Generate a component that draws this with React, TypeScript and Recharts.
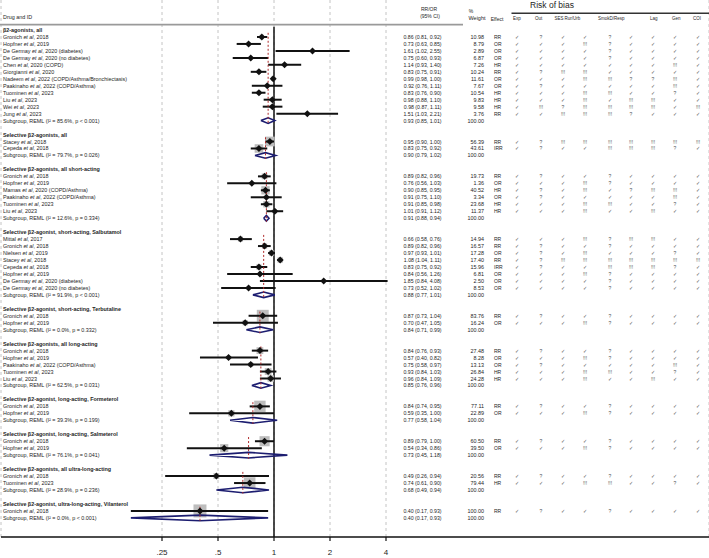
import React from "react";
import { ScatterChart, Scatter, XAxis, YAxis, CartesianGrid, ReferenceLine } from "recharts";

const FONT = "'Liberation Sans', Arial, Helvetica, sans-serif";

// ---- data ----
const groupTitles = [
  "β2-agonists, all",
  "Selective β2-agonists, all",
  "Selective β2-agonists, all short-acting",
  "Selective β2-agonist, short-acting, Salbutamol",
  "Selective β2-agonist, short-acting, Terbutaline",
  "Selective β2-agonists, all long-acting",
  "Selective β2-agonist, long-acting, Formeterol",
  "Selective β2-agonist, long-acting, Salmeterol",
  "Selective β2-agonists, all ultra-long-acting",
  "Selective β2-agonist, ultra-long-acting, Vilanterol",
];
const groupSizes = [12, 2, 6, 8, 2, 5, 2, 2, 2, 1];

const studyNames = [
  "Gronich et al, 2018", "Hopfner et al, 2019", "De Germay et al, 2020 (diabetes)",
  "De Germay et al, 2020 (no diabetes)", "Chen et al, 2020 (COPD)", "Giorgianni et al, 2020",
  "Nadeem et al, 2022 (COPD/Asthma/Bronchiectasis)", "Paakinaho et al, 2022 (COPD/Asthma)",
  "Tuominen et al, 2023", "Liu et al, 2023", "Wei et al, 2023", "Jung et al, 2023",
  "Stacey et al, 2018", "Cepeda et al, 2018",
  "Gronich et al, 2018", "Hopfner et al, 2019", "Mamas et al, 2020 (COPD/Asthma)",
  "Paakinaho et al, 2022 (COPD/Asthma)", "Tuominen et al, 2023", "Liu et al, 2023",
  "Mittal et al, 2017", "Gronich et al, 2018", "Nielsen et al, 2019", "Stacey et al, 2018",
  "Cepeda et al, 2018", "Hopfner et al, 2019", "De Germay et al, 2020 (diabetes)",
  "De Germay et al, 2020 (no diabetes)",
  "Gronich et al, 2018", "Hopfner et al, 2019",
  "Gronich et al, 2018", "Hopfner et al, 2019", "Paakinaho et al, 2022 (COPD/Asthma)",
  "Tuominen et al, 2023", "Liu et al, 2023",
  "Gronich et al, 2018", "Hopfner et al, 2019",
  "Gronich et al, 2018", "Hopfner et al, 2019",
  "Gronich et al, 2018", "Tuominen et al, 2023",
  "Gronich et al, 2018",
];
const studyEst = [
  0.86, 0.73, 1.61, 0.75, 1.14, 0.83, 0.99, 0.92, 0.83, 0.98, 0.98, 1.51,
  0.95, 0.83,
  0.89, 0.76, 0.90, 0.91, 0.91, 1.01,
  0.66, 0.89, 0.97, 1.08, 0.83, 0.84, 1.85, 0.73,
  0.87, 0.70,
  0.84, 0.57, 0.75, 0.93, 0.96,
  0.84, 0.59,
  0.89, 0.54,
  0.49, 0.74,
  0.40,
];
const studyLo = [
  0.81, 0.63, 1.02, 0.60, 0.93, 0.75, 0.98, 0.76, 0.76, 0.88, 0.87, 1.03,
  0.90, 0.75,
  0.82, 0.56, 0.85, 0.75, 0.85, 0.91,
  0.58, 0.82, 0.93, 1.04, 0.75, 0.56, 0.84, 0.52,
  0.73, 0.47,
  0.76, 0.40, 0.58, 0.84, 0.84,
  0.74, 0.35,
  0.79, 0.34,
  0.26, 0.61,
  0.17,
];
const studyHi = [
  0.92, 0.85, 2.55, 0.93, 1.40, 0.91, 1.00, 1.11, 0.90, 1.10, 1.11, 2.21,
  1.00, 0.92,
  0.96, 1.03, 0.95, 1.10, 0.98, 1.12,
  0.76, 0.96, 1.01, 1.11, 0.92, 1.26, 4.08, 1.02,
  1.04, 1.05,
  0.93, 0.82, 0.97, 1.03, 1.09,
  0.95, 1.00,
  1.00, 0.86,
  0.94, 0.90,
  0.93,
];
const studyWeight = [
  10.98, 8.79, 2.89, 6.87, 7.26, 10.24, 11.61, 7.67, 10.54, 9.83, 9.58, 3.76,
  56.39, 43.61,
  19.73, 1.36, 40.52, 3.34, 23.68, 11.37,
  14.94, 16.57, 17.28, 17.4, 15.96, 6.81, 2.5, 8.53,
  83.76, 16.24,
  27.48, 8.28, 13.13, 26.84, 24.28,
  77.11, 22.89,
  60.5, 39.5,
  20.56, 79.44,
  100,
];
const studyEffect = [
  "RR", "OR", "OR", "OR", "HR", "RR", "OR", "OR", "HR", "HR", "HR", "RR",
  "RR", "IRR",
  "RR", "OR", "HR", "OR", "HR", "HR",
  "RR", "RR", "OR", "RR", "IRR", "OR", "OR", "OR",
  "RR", "OR",
  "RR", "OR", "OR", "HR", "HR",
  "RR", "OR",
  "RR", "OR",
  "RR", "HR",
  "RR",
];
// c = low risk, q = unclear, x = high risk
const studyBias = [
  "cqccqcccc", "cccxqcccc", "ccccqcccc", "ccccqcccc", "cccccccxc", "cqxxccccc",
  "cccxxqqxc", "cqcccccxc", "cccxxccqc", "cccxcxxcc", "cxqxxxxcx", "ccxxxqccc",
  "cqxxxxxxx", "cqccxxxqc",
  "cqccqcccc", "cccxqcccc", "cqcxcqxxc", "cqcccccxc", "cccxxccqc", "cccxccxcc",
  "cccxqxxcc", "cqccqcccc", "cqcxcccqc", "cqxxxxxxx", "cqccxxxqc", "cccxqcccc",
  "ccccqcccc", "ccccqcccc",
  "cqccqcccc", "cccxqcccc",
  "cqccqcccc", "cccxqcccc", "cqcccccxc", "cccxxccqc", "cccxccxcc",
  "cqccqcccc", "cccxqcccc",
  "cqccqcccc", "cccxqcccc",
  "cqccqcccc", "cccxxccqc",
  "cqccqcccc",
];

const subgroupStats = [
  "I² = 85.6%, p < 0.001", "I² = 79.7%, p = 0.026", "I² = 12.6%, p = 0.334",
  "I² = 91.9%, p < 0.001", "I² = 0.0%, p = 0.332", "I² = 62.5%, p = 0.031",
  "I² = 39.3%, p = 0.199", "I² = 76.1%, p = 0.041", "I² = 28.9%, p = 0.236",
  "I² = 0.0%, p < 0.001",
];
const subgroupEst = [0.93, 0.90, 0.91, 0.88, 0.84, 0.85, 0.77, 0.73, 0.68, 0.40];
const subgroupLo = [0.85, 0.79, 0.88, 0.77, 0.71, 0.76, 0.58, 0.45, 0.49, 0.17];
const subgroupHi = [1.01, 1.02, 0.94, 1.01, 0.99, 0.96, 1.04, 1.18, 0.94, 0.93];

const biasColumns = ["Exp", "Out", "SES", "Rur/Urb", "Smok", "D/Resp", "Lag", "Gen", "COI"];
const xTicks = [0.25, 0.5, 1, 2, 4];
const xTickLabels = [".25", ".5", "1", "2", "4"];

// ---- layout ----
const W = 709;
const H = 558;
const ROW_Y0 = 30;
const ROW_H = 6.97;
const AXIS_Y = 537;
const PLOT_LEFT = 1; // y axis needs a non-zero width to draw its ticks
const ONE_X = 274;
const PX_PER_DOUBLING = 56;
const X_MIN = Math.pow(2, -(ONE_X - PLOT_LEFT) / PX_PER_DOUBLING);
const X_MAX = Math.pow(2, (W - ONE_X) / PX_PER_DOUBLING);
const Y_TOP = -ROW_Y0 / ROW_H;
const Y_BOTTOM = (AXIS_Y - ROW_Y0) / ROW_H;
const HEADER_ROW = -1.6;

const LABEL_FS = 5.4;
const CI_FS = 5.2;
const biasX = [517, 541, 563, 585, 610, 631, 653, 675, 698];
const biasHeadX = [513, 535, 554.5, 564.5, 598, 609.5, 650, 672, 693];
const biasGlyph: Record<string, string> = { c: "✓", q: "?", x: "!!!" };

type Row = { r: number; kind: "title" | "study" | "sub"; g: number; i: number };
const rows: Row[] = [];
const studies: { x: number; y: number; w: number; lo: number; hi: number }[] = [];
const subgroups: { r: number; g: number; first: number }[] = [];
{
  let r = 0;
  let k = 0;
  groupSizes.forEach((n, g) => {
    rows.push({ r, kind: "title", g, i: -1 });
    for (let j = 0; j < n; j++) {
      rows.push({ r: r + 1 + j, kind: "study", g, i: k });
      studies.push({ x: studyEst[k], y: r + 1 + j, w: studyWeight[k], lo: studyLo[k], hi: studyHi[k] });
      k++;
    }
    rows.push({ r: r + n + 1, kind: "sub", g, i: -1 });
    subgroups.push({ r: r + n + 1, g, first: r });
    r += n + 3;
  });
}
const rowMap = new Map<number, Row>(rows.map((row) => [row.r, row]));
const tickRows = [HEADER_ROW, ...rows.map((row) => row.r)];

const fmt = (v: number) => v.toFixed(2);
const TEXT = "#1e1e1e";

const StudyName = ({ name }: { name: string }) => {
  const parts = name.split("et al");
  if (parts.length < 2) return <>{name}</>;
  return (
    <>
      {parts[0]}
      <tspan fontStyle="italic">et al</tspan>
      {parts[1]}
    </>
  );
};

const Header = ({ y }: { y: number }) => (
  <g fontFamily={FONT} fill={TEXT}>
    <text x={3} y={y - 2.2} fontSize={LABEL_FS} dominantBaseline="central">Drug and ID</text>
    <text x={429} y={y - 9.5} fontSize={5} textAnchor="middle" dominantBaseline="central">RR/OR</text>
    <text x={430} y={y - 2.8} fontSize={5} textAnchor="middle" dominantBaseline="central">(95% CI)</text>
    <text x={471} y={y - 8} fontSize={5} textAnchor="middle" dominantBaseline="central">%</text>
    <text x={477} y={y - 0.4} fontSize={5.5} textAnchor="middle" dominantBaseline="central">Weight</text>
    <text x={497} y={y} fontSize={5} textAnchor="middle" dominantBaseline="central">Effect</text>
    <text x={552} y={y - 13.8} fontSize={8.5} textAnchor="middle" dominantBaseline="central">Risk of bias</text>
    <line x1={511.5} x2={W} y1={y - 5.6} y2={y - 5.6} stroke="#333" strokeWidth={1.6} />
    {biasColumns.map((c, j) => (
      <text key={c} x={biasHeadX[j]} y={y} fontSize={4.5} dominantBaseline="central">
        {c}
      </text>
    ))}
    <line x1={0} x2={463} y1={y + 5.7} y2={y + 5.7} stroke="#9a9a9a" strokeWidth={1.7} />
  </g>
);

const RowTick = (props: any) => {
  const { y, payload } = props;
  const v = payload.value;
  if (v === HEADER_ROW) return <Header y={y} />;
  const row = rowMap.get(v);
  if (!row) return <g />;
  if (row.kind === "title") {
    return (
      <text x={3} y={y} fontSize={LABEL_FS} fontWeight="bold" fontFamily={FONT} fill={TEXT} dominantBaseline="central">
        {groupTitles[row.g]}
      </text>
    );
  }
  if (row.kind === "sub") {
    const g = row.g;
    return (
      <g fontFamily={FONT} fill={TEXT}>
        <text x={3} y={y} fontSize={LABEL_FS} dominantBaseline="central">
          {`Subgroup, REML (${subgroupStats[g]})`}
        </text>
        <text x={441.5} y={y} fontSize={CI_FS} textAnchor="end" dominantBaseline="central">
          {`${fmt(subgroupEst[g])} (${fmt(subgroupLo[g])}, ${fmt(subgroupHi[g])})`}
        </text>
        <text x={484} y={y} fontSize={5.4} textAnchor="end" dominantBaseline="central">100.00</text>
      </g>
    );
  }
  const i = row.i;
  return (
    <g fontFamily={FONT} fill={TEXT}>
      <text x={3} y={y} fontSize={LABEL_FS} dominantBaseline="central">
        <StudyName name={studyNames[i]} />
      </text>
      <text x={441.5} y={y} fontSize={CI_FS} textAnchor="end" dominantBaseline="central">
        {`${fmt(studyEst[i])} (${fmt(studyLo[i])}, ${fmt(studyHi[i])})`}
      </text>
      <text x={484} y={y} fontSize={5.4} textAnchor="end" dominantBaseline="central">
        {fmt(studyWeight[i])}
      </text>
      <text x={494} y={y} fontSize={5} dominantBaseline="central">{studyEffect[i]}</text>
      {studyBias[i].split("").map((c, j) => (
        <text key={j} x={biasX[j]} y={y} fontSize={5} fill="#555" textAnchor="middle" dominantBaseline="central">
          {biasGlyph[c]}
        </text>
      ))}
    </g>
  );
};

const XTick = (props: any) => {
  const { x, payload } = props;
  const idx = xTicks.indexOf(payload.value);
  return (
    <text x={x} y={552.5} fontSize={8} fontFamily={FONT} fill={TEXT} textAnchor="middle" dominantBaseline="central">
      {idx >= 0 ? xTickLabels[idx] : ""}
    </text>
  );
};

const WeightBox = (props: any) => {
  const { cx, cy, payload } = props;
  const s = 13 * Math.sqrt(payload.w / 100);
  return <rect x={cx - s / 2} y={cy - s / 2} width={s} height={s} fill="#bdbdbd" />;
};

const PointMarker = (props: any) => {
  const { cx, cy } = props;
  const d = 3.5;
  return <path d={`M${cx - d},${cy}L${cx},${cy - d}L${cx + d},${cy}L${cx},${cy + d}Z`} fill="#111" />;
};

const Nothing = () => <g />;

const App: React.FC = () => (
  <div style={{ position: "absolute", left: 0, top: 0, width: W, height: H, background: "#fff" }}>
    <ScatterChart width={W} height={H} margin={{ top: 0, right: 0, bottom: 0, left: 0 }}>
      <CartesianGrid horizontal={false} stroke="#c4c4c4" strokeDasharray="3 3" />
      <XAxis
        type="number"
        dataKey="x"
        scale="log"
        domain={[X_MIN, X_MAX]}
        allowDataOverflow
        ticks={xTicks}
        interval={0}
        height={21}
        tickSize={4}
        axisLine={{ stroke: "#111", strokeWidth: 1.5 }}
        tickLine={{ stroke: "#111", strokeWidth: 1.2 }}
        tick={(p: any) => <XTick {...p} />}
      />
      <YAxis
        type="number"
        dataKey="y"
        domain={[Y_TOP, Y_BOTTOM]}
        allowDataOverflow
        reversed
        width={PLOT_LEFT}
        ticks={tickRows}
        interval={0}
        tickLine={false}
        axisLine={false}
        tick={(p: any) => <RowTick {...p} />}
      />
      <ReferenceLine
        segment={[{ x: 1, y: -0.45 }, { x: 1, y: Y_BOTTOM }]}
        stroke="#111"
        strokeWidth={1.5}
      />
      <Scatter data={studies} shape={WeightBox} isAnimationActive={false} />
      {studies.map((s, k) => (
        <Scatter
          key={`ci${k}`}
          data={[{ x: s.lo, y: s.y }, { x: s.hi, y: s.y }]}
          line={{ stroke: "#111", strokeWidth: 2 }}
          shape={Nothing}
          isAnimationActive={false}
        />
      ))}
      {subgroups.map((sg) => (
        <Scatter
          key={`dm${sg.g}`}
          data={[
            { x: subgroupLo[sg.g], y: sg.r },
            { x: subgroupEst[sg.g], y: sg.r - 0.4 },
            { x: subgroupHi[sg.g], y: sg.r },
            { x: subgroupEst[sg.g], y: sg.r + 0.4 },
            { x: subgroupLo[sg.g], y: sg.r },
          ]}
          line={{ stroke: "#1c1d70", strokeWidth: 1.6 }}
          shape={Nothing}
          isAnimationActive={false}
        />
      ))}
      {subgroups.map((sg) => (
        <Scatter
          key={`rd${sg.g}`}
          data={[
            { x: subgroupEst[sg.g], y: sg.first + 0.4 },
            { x: subgroupEst[sg.g], y: sg.r + 0.5 },
          ]}
          line={{ stroke: "#b02a2a", strokeWidth: 1, strokeDasharray: "2 2" }}
          shape={Nothing}
          isAnimationActive={false}
        />
      ))}
      <Scatter data={studies} shape={PointMarker} isAnimationActive={false} />
    </ScatterChart>
  </div>
);

export default App;
